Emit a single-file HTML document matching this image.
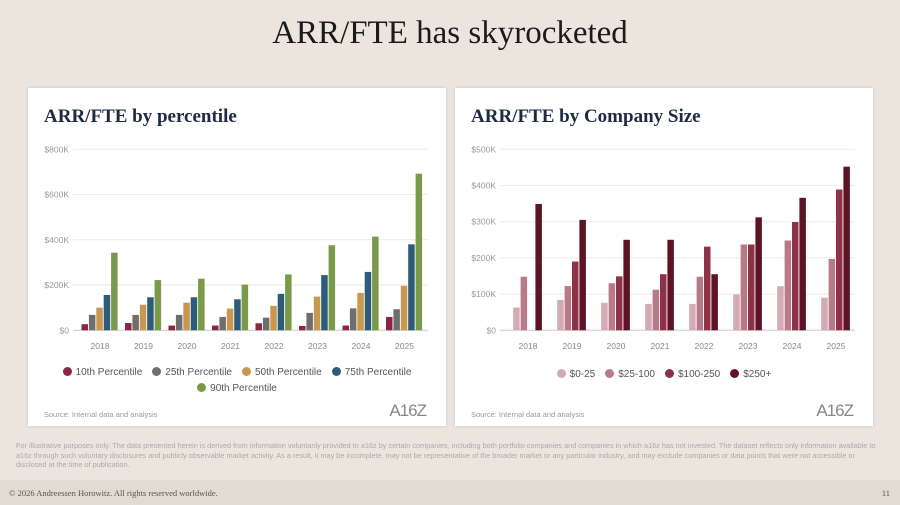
<!DOCTYPE html>
<html><head><meta charset="utf-8">
<style>
body{margin:0;width:900px;height:505px;overflow:hidden;background:#ebe5de;font-family:"Liberation Sans",sans-serif;position:relative}
.title{position:absolute;left:0;top:15px;width:900px;text-align:center;font-family:"Liberation Serif",serif;font-size:33px;color:#1a1a1a}
.card{position:absolute;top:88px;width:418px;height:338px;background:#fff;box-shadow:0 0 3px rgba(0,0,0,.15)}
.ct{position:absolute;left:16px;top:18px;font-family:"Liberation Serif",serif;font-weight:bold;font-size:19px;color:#1c2a44}
.src{position:absolute;left:16px;top:322px;font-size:7.5px;color:#999}
.logo{position:absolute;right:20px;top:313px;font-size:17px;color:#888;letter-spacing:-1px}
.leg{position:absolute;left:0;width:418px;text-align:center;font-size:10px;color:#555}
.leg span{margin:0 5px;white-space:nowrap}
.leg i{display:inline-block;width:9px;height:9px;border-radius:50%;vertical-align:-1px;margin-right:4px}
svg{position:absolute;left:0;top:0}
.disc{position:absolute;left:16px;top:441px;width:870px;font-size:7.3px;line-height:9.5px;color:#aaa}
.foot{position:absolute;left:0;top:480px;width:900px;height:25px;background:#e2dbd1}
.foot span{position:absolute;top:8px;font-family:"Liberation Serif",serif;font-size:8.5px;color:#555}
</style></head><body>
<div class="title">ARR/FTE has skyrocketed</div>
<div class="card" style="left:28px">
 <div class="ct">ARR/FTE by percentile</div>
 <div class="leg" style="top:279px">
  <span><i style="background:#8b2540"></i>10th Percentile</span><span><i style="background:#6e6e6e"></i>25th Percentile</span><span><i style="background:#c9974f"></i>50th Percentile</span><span><i style="background:#2c5c7a"></i>75th Percentile</span></div>
 <div class="leg" style="top:295px"><span><i style="background:#7a9a4a"></i>90th Percentile</span></div>
 <div class="src">Source: Internal data and analysis</div>
 <div class="logo">A16Z</div>
</div>
<div class="card" style="left:455px">
 <div class="ct">ARR/FTE by Company Size</div>
 <div class="leg" style="top:281px">
  <span><i style="background:#d4aab4"></i>$0-25</span><span><i style="background:#b87a88"></i>$25-100</span><span><i style="background:#8e3347"></i>$100-250</span><span><i style="background:#5e1425"></i>$250+</span></div>
 <div class="src">Source: Internal data and analysis</div>
 <div class="logo">A16Z</div>
</div>
<svg id="s" width="900" height="505"></svg>
<div class="disc">For illustrative purposes only. The data presented herein is derived from information voluntarily provided to a16z by certain companies, including both portfolio companies and companies in which a16z has not invested. The dataset reflects only information available to a16z through such voluntary disclosures and publicly observable market activity. As a result, it may be incomplete, may not be representative of the broader market or any particular industry, and may exclude companies or data points that were not accessible or disclosed at the time of publication.</div>
<div class="foot"><span style="left:9px">© 2026 Andreessen Horowitz. All rights reserved worldwide.</span><span style="right:10px">11</span></div>
<script>
const years=["2018","2019","2020","2021","2022","2023","2024","2025"];
const p10=[27,32,21,21,31,19,21,59];
const p25=[68,68,68,59,56,77,97,93];
const p50=[100,113,122,96,108,149,165,197];
const p75=[156,146,146,137,161,244,258,380];
const p90=[343,222,228,202,247,376,414,692];
const leftTicks=[0,200,400,600,800];
const s0=[63,84,76,73,73,99,122,90];
const s1=[148,122,130,112,148,237,248,197];
const s2=[0,190,149,155,231,237,299,389];
const s3=[349,305,250,250,155,312,366,452];
const rightTicks=[0,100,200,300,400,500];
const NS="http://www.w3.org/2000/svg",svg=document.getElementById('s');
function mk(t,a){const e=document.createElementNS(NS,t);for(const k in a)e.setAttribute(k,a[k]);svg.appendChild(e);return e;}
function chart(o){
 const y=v=>330.3-v*181/o.max;
 o.ticks.forEach(t=>{
  const l=mk('line',{x1:o.x0,x2:o.x1,y1:y(t),y2:y(t),stroke:t?'#eeeae6':'#ccc','stroke-width':1});
  
  
  const tx=mk('text',{x:o.x0-4,y:y(t)+3,'text-anchor':'end','font-size':8.5,fill:'#999','font-family':'Liberation Sans'});
  tx.textContent=t?'$'+t+'K':'$0';
  
  
 });
 const n=o.series.length,step=7.4,w=6.5;
 years.forEach((yr,i)=>{
  const cx=o.c0+i*o.sp;
  o.series.forEach((ser,j)=>{
   const v=ser[i];if(!v)return;
   const r=mk('rect',{x:cx-n*step/2+j*step,y:y(v),width:w,height:y(0)-y(v),fill:o.colors[j]});
   
   
  });
  const tx=mk('text',{x:cx,y:349,'text-anchor':'middle','font-size':8.5,fill:'#888','font-family':'Liberation Sans'});
  tx.textContent=yr;
  
  
 });
}
chart({max:800,ticks:leftTicks,x0:73,x1:428,c0:100,sp:43.5,series:[p10,p25,p50,p75,p90],colors:['#8b2540','#6e6e6e','#c9974f','#2c5c7a','#7a9a4a'],names:['p10','p25','p50','p75','p90']});
chart({max:500,ticks:rightTicks,x0:500,x1:855,c0:528,sp:44,series:[s0,s1,s2,s3],colors:['#d4aab4','#b87a88','#8e3347','#5e1425'],names:['0-25','25-100','100-250','250plus']});
</script>
</body></html>
